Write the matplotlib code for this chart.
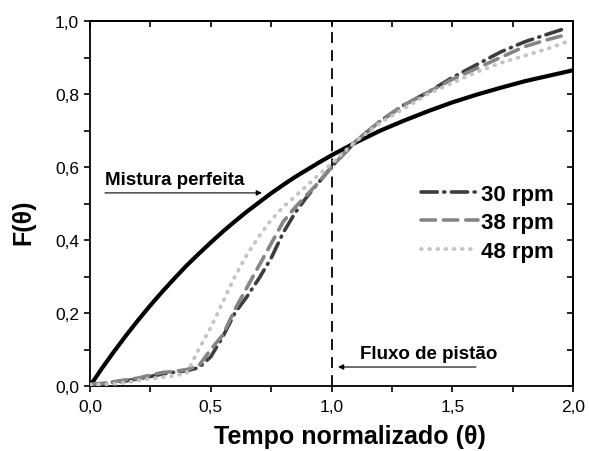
import matplotlib
matplotlib.use("Agg")
import matplotlib.pyplot as plt
from matplotlib.ticker import MultipleLocator, FuncFormatter

plt.rcParams['font.family'] = ['Liberation Sans', 'DejaVu Sans']

# Ideal continuous stirred tank (perfect mixing) curve
theta_mix = [0.0, 0.05, 0.1, 0.15, 0.2, 0.25, 0.3, 0.35, 0.4, 0.45, 0.5,
             0.55, 0.6, 0.65, 0.7, 0.75, 0.8, 0.85, 0.9, 0.95, 1.0,
             1.1, 1.2, 1.3, 1.4, 1.5, 1.6, 1.7, 1.8, 1.9, 2.0]
F_mix = [0.0, 0.049, 0.095, 0.139, 0.181, 0.221, 0.259, 0.295, 0.330, 0.362, 0.393,
         0.423, 0.451, 0.478, 0.503, 0.528, 0.551, 0.573, 0.593, 0.613, 0.632,
         0.667, 0.699, 0.727, 0.753, 0.777, 0.798, 0.817, 0.835, 0.850, 0.865]

# Measured response curves
theta_exp = [0.0, 0.05, 0.1, 0.15, 0.2, 0.25, 0.3, 0.35, 0.4, 0.45, 0.5,
             0.55, 0.6, 0.65, 0.7, 0.75, 0.8, 0.85, 0.9, 0.95, 1.0,
             1.1, 1.2, 1.3, 1.4, 1.5, 1.6, 1.7, 1.8, 1.9, 1.97]
F_30 = [0.005, 0.006, 0.01, 0.014, 0.02, 0.026, 0.033, 0.038, 0.042, 0.05, 0.08,
        0.135, 0.20, 0.245, 0.295, 0.35, 0.42, 0.475, 0.52, 0.56, 0.60,
        0.67, 0.725, 0.77, 0.805, 0.845, 0.88, 0.915, 0.943, 0.965, 0.98]
F_38 = [0.005, 0.007, 0.012, 0.017, 0.022, 0.03, 0.037, 0.04, 0.045, 0.055, 0.10,
        0.14, 0.21, 0.27, 0.33, 0.39, 0.45, 0.49, 0.525, 0.56, 0.60,
        0.67, 0.725, 0.77, 0.805, 0.84, 0.87, 0.90, 0.93, 0.95, 0.962]
F_48 = [0.003, 0.004, 0.006, 0.01, 0.015, 0.02, 0.024, 0.028, 0.035, 0.10, 0.16,
        0.23, 0.30, 0.36, 0.41, 0.455, 0.49, 0.52, 0.55, 0.58, 0.61,
        0.67, 0.72, 0.76, 0.80, 0.83, 0.86, 0.885, 0.905, 0.925, 0.942]

series_labels = ['30 rpm', '38 rpm', '48 rpm']
x_ticks = [0.0, 0.5, 1.0, 1.5, 2.0]
y_ticks = [0.0, 0.2, 0.4, 0.6, 0.8, 1.0]

W, H = 589, 452
fig = plt.figure(figsize=(W / 100, H / 100), dpi=100)
ax = fig.add_axes([90 / W, 1 - 387 / H, 483 / W, 365 / H])

ax.plot(theta_mix, F_mix, color='black', lw=3.0, solid_capstyle='round', zorder=3)

l30, = ax.plot(theta_exp, F_30, color='#3d3d3d', lw=2.6, dash_capstyle='round',
               label=series_labels[0], zorder=4)
l30.set_dashes([4.5, 1.8, 0.3, 1.8])
l38, = ax.plot(theta_exp, F_38, color='#858585', lw=2.6, dash_capstyle='round',
               label=series_labels[1], zorder=4)
l38.set_dashes([4.0, 2.2])
l48, = ax.plot(theta_exp, F_48, color='#c4c4c4', lw=2.8, dash_capstyle='round',
               label=series_labels[2], zorder=4)
l48.set_dashes([0.2, 1.9])

# Plug-flow reference at theta = 1
ax.axvline(1.0, color='black', lw=1.3, dashes=(6, 4), zorder=2)

ax.set_xlim(0, 2)
ax.set_ylim(0, 1)
ax.xaxis.set_minor_locator(MultipleLocator(0.25))
ax.yaxis.set_minor_locator(MultipleLocator(0.1))
comma = FuncFormatter(lambda v, p: f"{v:.1f}".replace('.', ','))
ax.set_xticks(x_ticks)
ax.set_yticks(y_ticks)
ax.xaxis.set_major_formatter(comma)
ax.yaxis.set_major_formatter(comma)
ax.tick_params(which='both', direction='out', length=4, width=1.2,
               labelsize=12.5, colors='black', top=False, right=False)
ax.tick_params(axis='x', pad=5)
ax.tick_params(axis='y', pad=4)
for s in ax.spines.values():
    s.set_linewidth(1.3)

# Inward-pointing ticks on the top and right spines
sx = ax.secondary_xaxis('top')
sx.xaxis.set_major_locator(MultipleLocator(0.5))
sx.xaxis.set_minor_locator(MultipleLocator(0.25))
sx.tick_params(which='both', direction='in', length=4, width=1.2, labeltop=False)
sy = ax.secondary_yaxis('right')
sy.yaxis.set_major_locator(MultipleLocator(0.2))
sy.yaxis.set_minor_locator(MultipleLocator(0.1))
sy.tick_params(which='both', direction='in', length=4, width=1.2, labelright=False)
sx.spines['top'].set_linewidth(1.3)
sy.spines['right'].set_linewidth(1.3)

ax.set_xlabel('Tempo normalizado (θ)', fontsize=18, fontweight='bold')
ax.xaxis.label.set_va('center')
ax.xaxis.set_label_coords(350 / W, 1 - 437 / H, transform=fig.transFigure)
ax.set_ylabel('F(θ)', fontsize=18, fontweight='bold')
ax.yaxis.label.set_va('center')
ax.yaxis.set_label_coords(23 / W, 1 - 222 / H, transform=fig.transFigure)

ax.annotate('', xy=(0.712, 0.529), xytext=(0.062, 0.529),
            arrowprops=dict(arrowstyle='-|>', color='black', lw=0.8,
                            mutation_scale=8, shrinkA=0, shrinkB=0))
ax.text(0.062, 0.565, 'Mistura perfeita', fontsize=13.5, fontweight='bold',
        ha='left', va='center')
ax.annotate('', xy=(1.027, 0.052), xytext=(1.598, 0.052),
            arrowprops=dict(arrowstyle='-|>', color='black', lw=0.8,
                            mutation_scale=8, shrinkA=0, shrinkB=0))
ax.text(1.118, 0.09, 'Fluxo de pistão', fontsize=13.5, fontweight='bold',
        ha='left', va='center')

leg = ax.legend(handles=[l30, l38, l48], loc='upper left',
                bbox_to_anchor=(322 / 483, 1 - 154 / 365), frameon=False,
                handlelength=2.55, handletextpad=0.15, labelspacing=0.33,
                borderaxespad=0, prop={'size': 16, 'weight': 'bold'})

fig.savefig('out.png', dpi=100)
